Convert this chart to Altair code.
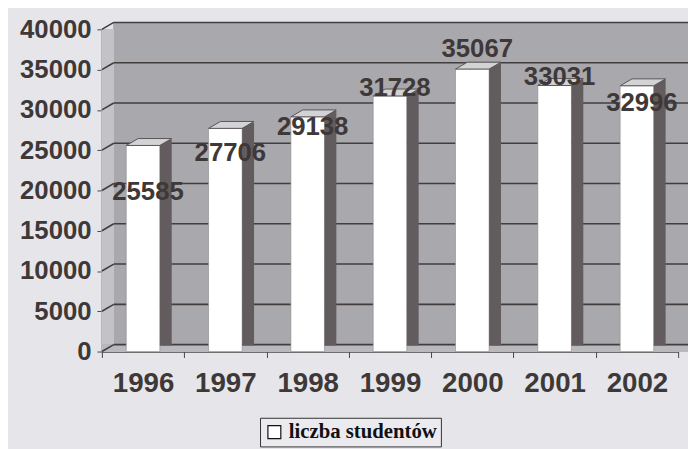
import altair as alt
import pandas as pd

# ---- data ----
years = ["1996", "1997", "1998", "1999", "2000", "2001", "2002"]
students = [25585, 27706, 29138, 31728, 35067, 33031, 32996]
# where each data label sits (value units), as placed in the original 3-D chart
label_at = [19750, 24650, 27850, 32750, 37550, 34100, 30800]
y_ticks = [0, 5000, 10000, 15000, 20000, 25000, 30000, 35000, 40000]
series_name = "liczba studentów"

df = pd.DataFrame({
    "year": years,
    "value": students,
    "label_at": label_at,
    "label": [str(v) for v in students],
    "series": [series_name] * len(years),
})
grid_df = pd.DataFrame({"value": y_ticks})

W, H = 583, 326
DEPTH_X, DEPTH_Y = 12, 7
TXT = "#3e3838"
GRID = "#433d3d"

xscale = alt.Scale(domain=years, paddingInner=0, paddingOuter=0)
yscale = alt.Scale(domain=[0, 40000], nice=False, zero=True)

x_main = alt.X(
    "year:N", scale=xscale, title=None,
    axis=alt.Axis(
        labelFont="Liberation Sans", labelFontSize=28, labelFontWeight="bold",
        labelColor=TXT, labelAngle=0, labelPadding=12, tickBand="extent",
        tickSize=6, tickColor="#4a4444", domainColor="#4a4444", domainWidth=1.5,
        labelBaseline="top",
    ),
)
y_main = alt.Y(
    "value:Q", scale=yscale, title=None,
    axis=alt.Axis(
        values=y_ticks, format="d", labelFont="Liberation Sans", labelFontSize=26,
        labelFontWeight="bold", labelColor=TXT, labelPadding=6, tickSize=5,
        tickColor="#4a4444", domainColor="#4a4444", domainWidth=1.5, grid=False,
    ),
)

base = alt.Chart(df)

# back wall
wall = base.mark_rect(fill="#a8a8ad", yOffset=-DEPTH_Y, y2Offset=-DEPTH_Y).encode(
    x=alt.value(DEPTH_X), x2=alt.value(W + 20),
    y=alt.datum(40000, scale=yscale), y2=alt.datum(0),
)
# left side wall
side_wall = base.mark_rect(fill="#c3c3c7").encode(
    x=alt.value(0), x2=alt.value(DEPTH_X),
    y=alt.datum(40000, scale=yscale), y2=alt.datum(0),
)
# floor
floor = base.mark_rect(fill="#b9b9bd", yOffset=-DEPTH_Y).encode(
    x=alt.value(0), x2=alt.value(W + 20),
    y=alt.datum(0, scale=yscale), y2=alt.datum(0),
)
# gridlines on back wall
grid_back = alt.Chart(grid_df).mark_rule(
    color=GRID, strokeWidth=1.6, yOffset=-DEPTH_Y
).encode(
    x=alt.value(DEPTH_X), x2=alt.value(W + 20),
    y=alt.Y("value:Q", scale=yscale, title=None),
)
# slanted gridlines on side wall
grid_side = alt.Chart(grid_df).mark_rule(
    color=GRID, strokeWidth=1.6, y2Offset=-DEPTH_Y
).encode(
    x=alt.value(0), x2=alt.value(DEPTH_X),
    y=alt.Y("value:Q", scale=yscale, title=None),
    y2=alt.Y2("value:Q"),
)

# bar fronts (white)
front = base.mark_bar(size=34, stroke="#8a8686", strokeWidth=0.6).encode(
    x=x_main, y=y_main,
    color=alt.Color(
        "series:N", scale=alt.Scale(range=["#ffffff"]),
        legend=alt.Legend(
            title=None, orient="none", legendX=160, legendY=393,
            symbolType="square", symbolSize=170, symbolStrokeColor="#111111",
            symbolStrokeWidth=1.2, symbolFillColor="#ffffff",
            labelFont="Liberation Serif, Times New Roman, serif", labelFontSize=21,
            labelFontWeight="bold", labelColor="#111111", strokeColor="#333333",
            fillColor="#ebebef", padding=4,
        ),
    ),
)
# bar right-hand sides (dark)
side = base.mark_bar(size=DEPTH_X, xOffset=23, yOffset=-DEPTH_Y + 1, y2Offset=-3,
                     color="#625c5e").encode(
    x=alt.X("year:N", scale=xscale, title=None),
    y=alt.Y("value:Q", scale=yscale, title=None),
)
# bar tops (parallelogram)
top_path = "M-1,0.152L0.478,0.152L1,-0.152L-0.478,-0.152Z"
top = base.mark_point(
    shape=top_path, size=46 * 46, filled=True, fill="#d3d3d6", stroke="#5a5454",
    strokeWidth=1, opacity=1, xOffset=6, yOffset=-3.5,
).encode(
    x=alt.X("year:N", scale=xscale, title=None),
    y=alt.Y("value:Q", scale=yscale, title=None),
)
# data labels
labels = base.mark_text(
    font="Liberation Sans", fontSize=26, fontWeight="bold", color=TXT,
    dx=5, baseline="middle", align="center",
).encode(
    x=alt.X("year:N", scale=xscale, title=None),
    y=alt.Y("label_at:Q", scale=yscale, title=None),
    text="label:N",
)

chart = alt.layer(
    wall, side_wall, floor, grid_back, grid_side, front, side, top, labels
).properties(
    width=W, height=H,
    autosize=alt.AutoSizeParams(type="none"),
    padding={"left": 95, "top": 19, "right": 10, "bottom": 96},
    background="#e6e6ea",
).configure_view(stroke=None)

chart.save("out.html", embed_options={"renderer": "svg", "actions": False})
